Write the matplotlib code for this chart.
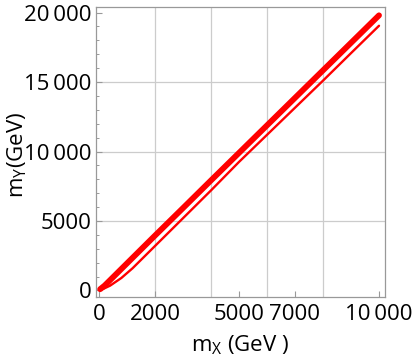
import matplotlib
matplotlib.use('Agg')
import matplotlib.pyplot as plt
from matplotlib.ticker import FixedLocator, MultipleLocator

plt.rcParams['font.family'] = ['Open Sans', 'DejaVu Sans']
plt.rcParams['mathtext.default'] = 'regular'

# upper (thick) branch
mx_upper = [40, 200, 500, 1000, 2000, 3000, 4000, 5000, 6000, 7000, 8000, 9000, 10000]
my_upper = [90, 350, 950, 1950, 3950, 5930, 7920, 9900, 11880, 13860, 15840, 17820, 19800]

# lower (thin) branch
mx_lower = [40, 150, 400, 800, 1200, 2000, 3000, 4000, 5000, 6000, 7000, 8000, 9000, 10000]
my_lower = [90, 110, 350, 900, 1600, 3200, 5200, 7200, 9250, 11200, 13150, 15100, 17080, 19050]

x_ticks = [0, 2000, 5000, 7000, 10000]
x_ticklabels = ['0', '2000', '5000', '7000', '10\u2009000']
y_ticks = [0, 5000, 10000, 15000, 20000]
y_ticklabels = ['0', '5000', '10\u2009000', '15\u2009000', '20\u2009000']
x_grid = [2000, 4000, 6000, 8000]
y_grid = [5000, 10000, 15000]

fig = plt.figure(figsize=(4.15, 3.61), dpi=100)
ax = fig.add_axes([0.2313, 0.1773, 0.6964, 0.8033])

for v in x_grid:
    ax.axvline(v, color='#cccccc', lw=0.9, zorder=0)
for v in y_grid:
    ax.axhline(v, color='#cccccc', lw=0.9, zorder=0)

ax.plot(mx_upper, my_upper, color='#ff0000', lw=4.2, solid_capstyle='round')
ax.plot(mx_lower, my_lower, color='#ff0000', lw=1.7, solid_capstyle='round')

ax.set_xlim(-107, 10214)
ax.set_ylim(-470, 20400)

ax.xaxis.set_major_locator(FixedLocator(x_ticks))
ax.set_xticklabels(x_ticklabels)
ax.yaxis.set_major_locator(FixedLocator(y_ticks))
ax.set_yticklabels(y_ticklabels)
ax.yaxis.set_minor_locator(MultipleLocator(1000))

for s in ax.spines.values():
    s.set_color('#999999')
    s.set_linewidth(0.9)

ax.tick_params(which='major', direction='in', length=4, width=0.8, color='#999999',
               labelsize=16, pad=5, top=False, right=False)
ax.tick_params(which='minor', direction='in', length=2.5, width=0.7, color='#999999',
               top=False, right=False)
ax.tick_params(axis='y', which='major', pad=3)

fig.text(0.578, 0.045, '$m_X$ (GeV )', fontsize=16, ha='center', va='center')
fig.text(0.042, 0.57, '$m_Y$(GeV)', fontsize=16, ha='center', va='center', rotation=90)

plt.savefig('out.png', dpi=100)
